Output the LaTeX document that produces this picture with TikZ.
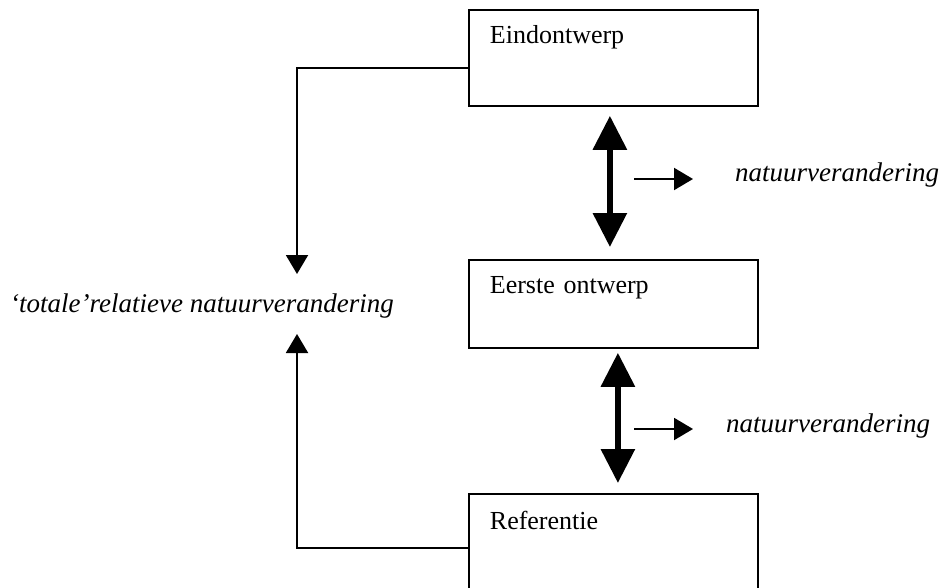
\documentclass[tikz,border=0pt]{standalone}
\usepackage{fontspec}
\setmainfont{Liberation Serif}
\usetikzlibrary{arrows.meta}

\begin{document}
\begin{tikzpicture}[x=1pt,y=-1pt,
    vak/.style={draw,line width=1.8pt,anchor=north west,text width=247pt,align=left,
      inner xsep=21pt,inner ysep=16pt,text height=18pt,font=\fontsize{26}{30}\selectfont},
    tekst/.style={anchor=base west,inner sep=0pt,font=\fontsize{27}{31}\selectfont\itshape},
    dik/.style={line width=6pt,{Triangle[width=33pt,length=34pt]}-{Triangle[width=33pt,length=34pt]}},
    dun/.style={line width=2pt,-{Triangle[width=22pt,length=19pt]}}]
    \clip (0,0) rectangle (941,588);
    % boxes
    \node[vak,text depth=46pt] (eind) at (468,9) {Eindontwerp};
    \node[vak,text depth=38pt] (eerste) at (468,259) {Eerste ontwerp};
    \node[vak,text height=20pt,text depth=56pt] (ref) at (468,493) {Referentie};
    % labels
    \node[tekst] (nat1) at (735,182) {natuurverandering};
    \node[tekst] (nat2) at (726,432) {natuurverandering};
    \node[tekst] (totaal) at (10,312) {‘totale’relatieve natuurverandering};
    \coordinate (ltop) at (297,274);
    \coordinate (lbot) at (297,334);
    \coordinate (pijl1) at (634,179);
    \coordinate (pijl2) at (634,429);
    % arrows
    \draw[dik,shorten <=9pt,shorten >=12pt] ([xshift=-3.5pt]eind.south) -- ([xshift=-3.5pt]eerste.north);
    \draw[dik,shorten <=4pt,shorten >=10pt] ([xshift=4.5pt]eerste.south) -- ([xshift=4.5pt]ref.north);
    \draw[dun,shorten >=42pt] (pijl1) -- (pijl1 -| nat1.west);
    \draw[dun,shorten >=33pt] (pijl2) -- (pijl2 -| nat2.west);
    \draw[dun] ([yshift=-10pt]eind.west) -| (ltop);
    \draw[dun] (ref.west) -| (lbot);
\end{tikzpicture}
\end{document}
